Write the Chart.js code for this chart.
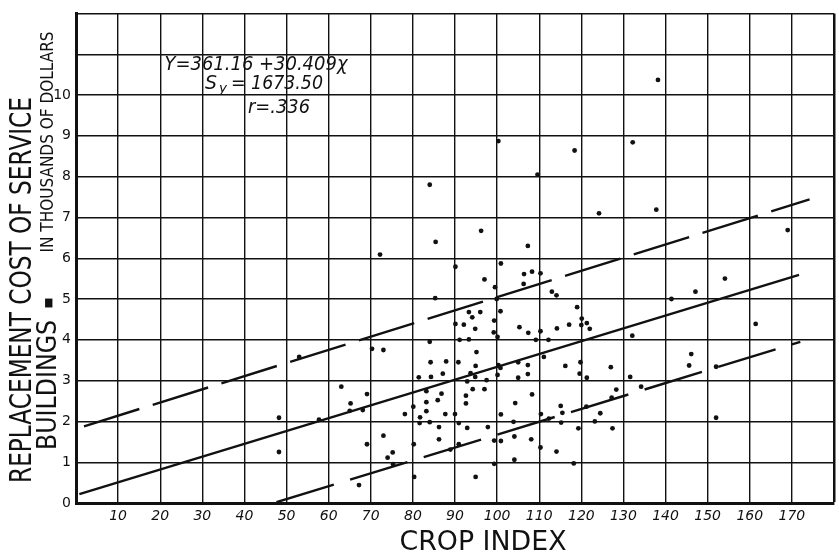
<!DOCTYPE html>
<html>
<head>
<meta charset="utf-8">
<script src="https://cdn.jsdelivr.net/npm/chart.js@4"></script>
<style>
  html, body { margin: 0; padding: 0; background: #fff; }
</style>
</head>
<body>
<canvas id="chart" width="839" height="553"></canvas>
<script>
// Crop index (x) and replacement cost of service buildings, thousands of dollars (y)
const cropIndex = [
  48.2, 48.2, 53.0, 57.7, 63.0, 65.2, 65.0, 67.2, 68.1, 69.1,
  69.1, 70.3, 72.2, 73.0, 73.0, 74.0, 75.2, 75.3, 78.1, 80.1,
  80.2, 80.3, 81.4, 81.7, 81.6, 83.2, 83.2, 83.2, 84.0, 84.3,
  84.2, 84.0, 84.0, 85.3, 85.4, 85.9, 86.8, 86.2, 86.2, 87.1,
  87.9, 87.7, 88.9, 90.0, 90.8, 90.9, 90.9, 90.1, 90.1, 91.1,
  92.1, 92.9, 92.6, 92.6, 92.9, 93.7, 93.3, 93.3, 94.1, 94.8,
  94.2, 94.8, 94.9, 95.1, 94.9, 96.0, 96.2, 97.0, 97.0, 97.5,
  97.8, 99.3, 99.3, 99.3, 99.2, 100.1, 100.8, 99.5, 99.9, 100.9,
  100.3, 100.3, 100.1, 100.8, 100.9, 100.9, 104.1, 104.1, 103.9, 104.3,
  105.0, 105.0, 105.3, 106.3, 106.4, 107.3, 107.3, 107.3, 107.4, 108.3,
  108.3, 108.1, 109.2, 109.6, 110.3, 110.3, 110.4, 110.3, 111.1, 112.2,
  112.3, 113.0, 114.1, 114.2, 114.1, 115.1, 115.5, 115.2, 116.2, 117.1,
  118.2, 118.4, 119.0, 119.3, 119.6, 119.8, 120.1, 120.0, 121.3, 121.3,
  121.2, 122.0, 123.2, 124.5, 124.2, 127.0, 127.2, 128.3, 127.4, 131.6,
  132.1, 132.2, 134.2, 137.8, 138.2, 141.4, 145.6, 146.1, 147.1, 152.0,
  152.0, 154.1, 161.4, 169.0
];
const serviceCost = [
  2.09, 1.25, 3.58, 2.04, 2.85, 2.44, 2.26, 0.44, 2.28, 2.67,
  1.44, 3.78, 6.09, 3.75, 1.65, 1.11, 1.24, 0.95, 2.18, 2.36,
  1.44, 0.64, 3.08, 2.10, 1.96, 2.25, 2.47, 2.74, 1.98, 3.09,
  3.45, 3.95, 7.80, 5.02, 6.40, 2.52, 2.68, 1.86, 1.56, 3.17,
  3.47, 2.18, 1.31, 2.18, 3.45, 1.96, 1.44, 4.39, 5.79, 4.00,
  4.37, 1.84, 2.44, 2.63, 2.98, 3.18, 4.01, 4.68, 4.55, 4.27,
  2.79, 3.09, 3.36, 3.70, 0.64, 4.68, 6.67, 5.48, 2.79, 3.01,
  1.86, 1.53, 0.96, 4.47, 4.18, 4.07, 4.70, 5.29, 5.00, 5.87,
  8.87, 3.38, 3.14, 3.31, 2.17, 1.52, 1.06, 1.63, 1.99, 2.45,
  3.07, 3.45, 4.31, 5.37, 5.61, 6.30, 3.38, 3.16, 4.17, 5.67,
  2.66, 1.56, 4.00, 8.05, 5.63, 4.21, 2.18, 1.36, 3.58, 4.00,
  2.07, 5.18, 5.09, 4.28, 1.26, 2.38, 2.21, 1.97, 3.36, 4.37,
  0.97, 8.64, 4.80, 1.83, 3.17, 3.45, 4.52, 4.36, 4.41, 3.07,
  2.36, 4.27, 2.00, 2.20, 7.10, 3.33, 2.58, 2.78, 1.83, 3.09,
  4.10, 8.84, 2.85, 7.19, 10.37, 5.00, 3.37, 3.65, 5.18, 3.34,
  2.09, 5.50, 4.39, 6.69
];

// Regression line and the +/- one standard error lines (end points)
const fitX   = [0.8, 171.7];
const fitY   = [0.22, 5.59];
const upperX = [1.9, 174.2];
const upperY = [1.88, 7.44];
const lowerX = [47.6, 172.0];
const lowerY = [0.02, 3.95];

// Tick labels
const xTickLabels = [10, 20, 30, 40, 50, 60, 70, 80, 90, 100, 110, 120, 130, 140, 150, 160, 170];
const yTickLabels = [0, 1, 2, 3, 4, 5, 6, 7, 8, 9, 10];

const SANS = '"DejaVu Sans", sans-serif';
const toPoints = (xs, ys) => xs.map((x, i) => ({ x, y: ys[i] }));

// draw text squeezed/stretched to a given length, centred on (cx, cy)
function fitText (ctx, text, cx, cy, width, size, style, angle) {
  ctx.save();
  ctx.font = `${style || ''} ${size}px ${SANS}`;
  const w = ctx.measureText(text).width;
  ctx.translate(cx, cy);
  ctx.rotate(angle || 0);
  ctx.scale(width / w, 1);
  ctx.textAlign = 'center';
  ctx.textBaseline = 'alphabetic';
  ctx.fillText(text, 0, size * 0.36);
  ctx.restore();
}

const lettering = {
  id: 'lettering',
  afterDraw (chart) {
    const ctx = chart.ctx;
    const up = -Math.PI / 2;
    ctx.fillStyle = '#111';

    // axis titles
    fitText(ctx, 'REPLACEMENT COST OF SERVICE', 20, 290, 386, 30, '', up);
    fitText(ctx, 'BUILDINGS', 46, 385, 130, 27, '', up);
    fitText(ctx, '▬', 47, 303, 11, 20, '', up);
    fitText(ctx, 'IN THOUSANDS OF DOLLARS', 47, 142, 221, 17, '', up);
    fitText(ctx, 'CROP INDEX', 483, 540, 167, 27, '');

    // regression statistics
    fitText(ctx, 'Y=361.16 +30.409χ', 256, 63, 183, 20, 'italic');
    fitText(ctx, 'S', 211, 82, 12, 19, 'italic');
    fitText(ctx, 'y', 223, 87, 8, 13, 'italic');
    fitText(ctx, '= 1673.50', 277, 82, 92, 19, 'italic');
    fitText(ctx, 'r=.336', 279, 106, 62, 19, 'italic');
  }
};

const lineStyle = (data, dash) => ({
  type: 'line',
  data,
  borderColor: '#111',
  borderWidth: 2.4,
  borderDash: dash,
  pointRadius: 0,
  fill: false,
  tension: 0
});

new Chart(document.getElementById('chart'), {
  type: 'scatter',
  data: {
    datasets: [
      {
        data: toPoints(cropIndex, serviceCost),
        backgroundColor: '#111',
        borderWidth: 0,
        pointRadius: 2.4
      },
      lineStyle(toPoints(fitX, fitY), []),
      lineStyle(toPoints(upperX, upperY), [58, 14]),
      lineStyle(toPoints(lowerX, lowerY), [60, 17])
    ]
  },
  options: {
    responsive: false,
    animation: false,
    layout: { padding: { top: 10, right: 3 } },
    plugins: { legend: { display: false }, tooltip: { enabled: false } },
    scales: {
      x: {
        type: 'linear',
        min: 0,
        max: 180,
        afterFit (s) { s.height = 50; },
        ticks: {
          stepSize: 10,
          padding: 5,
          color: '#111',
          font: { family: SANS, size: 14, style: 'italic' },
          callback: v => xTickLabels.includes(v) ? String(v) : ''
        },
        grid: {
          color: '#111',
          lineWidth: c => (c.tick && c.tick.value === 180) ? 2.5 : 1.4,
          drawTicks: false
        },
        border: { display: true, color: '#111', width: 3 }
      },
      y: {
        type: 'linear',
        min: 0,
        max: 12,
        afterFit (s) { s.width = 76; },
        ticks: {
          stepSize: 1,
          padding: 5,
          color: '#111',
          font: { family: SANS, size: 14 },
          callback: v => yTickLabels.includes(v) ? String(v) : ''
        },
        grid: {
          color: '#111',
          lineWidth: 1.4,
          drawTicks: false
        },
        border: { display: true, color: '#111', width: 3 }
      }
    }
  },
  plugins: [lettering]
});
</script>
</body>
</html>
